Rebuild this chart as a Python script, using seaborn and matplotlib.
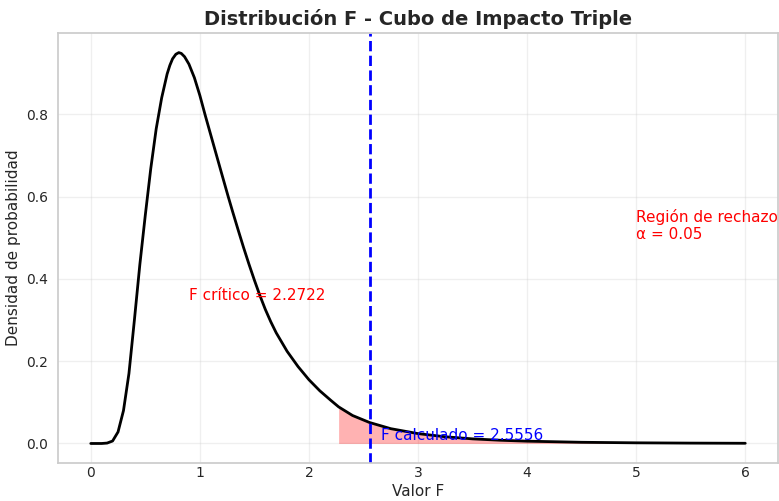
import numpy as np
import pandas as pd
import matplotlib
matplotlib.use("Agg")
import matplotlib.pyplot as plt
import seaborn as sns

# F density
f_values = [0.0, 0.10, 0.15, 0.20, 0.25, 0.30, 0.35, 0.40, 0.45, 0.50, 0.55, 0.60,
            0.65, 0.70, 0.725, 0.75, 0.78, 0.807, 0.83, 0.86, 0.90, 0.95, 1.00, 1.05,
            1.10, 1.15, 1.20, 1.26, 1.30, 1.35, 1.40, 1.45, 1.50, 1.55, 1.60, 1.65,
            1.70, 1.80, 1.90, 2.00, 2.10, 2.20, 2.2722, 2.40, 2.5556, 2.75, 3.00,
            3.25, 3.50, 3.75, 4.00, 4.50, 5.00, 5.50, 6.00]
densidad = [0.0, 0.0, 0.001, 0.006, 0.028, 0.080, 0.170, 0.300, 0.435, 0.555, 0.668, 0.765,
            0.840, 0.898, 0.919, 0.935, 0.946, 0.950, 0.948, 0.940, 0.922, 0.889, 0.846, 0.797,
            0.750, 0.703, 0.656, 0.600, 0.564, 0.520, 0.477, 0.436, 0.397, 0.360, 0.326, 0.296,
            0.269, 0.224, 0.187, 0.155, 0.128, 0.105, 0.089, 0.068, 0.051, 0.036, 0.024,
            0.0163, 0.0112, 0.0079, 0.0056, 0.0029, 0.0016, 0.0009, 0.0005]

f_critico = 2.2722
f_calculado = 2.5556
alpha = 0.05

df = pd.DataFrame({'F': f_values, 'pdf': densidad})

sns.set_theme(style='whitegrid')
plt.rcParams['font.family'] = ['DejaVu Sans']

fig, ax = plt.subplots(figsize=(7.79, 5.01), dpi=100)
fig.subplots_adjust(left=0.0745, right=0.9987, bottom=0.0758, top=0.934)

sns.lineplot(data=df, x='F', y='pdf', color='black', linewidth=2, ax=ax)

# region de rechazo
rechazo = df[df['F'] >= f_critico]
ax.fill_between(rechazo['F'], rechazo['pdf'], color='red', alpha=0.3, linewidth=0)

ax.axvline(f_calculado, color='blue', linestyle='--', linewidth=2)

ax.text(0.9, 0.36, f'F crítico = {f_critico}', color='red', fontsize=11, va='center')
ax.text(5.0, 0.53, f'Región de rechazo\nα = {alpha}', color='red', fontsize=11, va='center')
ax.text(2.66, 0.02, f'F calculado = {f_calculado}', color='blue', fontsize=11, va='center')

ax.set_title('Distribución F - Cubo de Impacto Triple', fontsize=14, fontweight='bold')
ax.set_xlabel('Valor F', fontsize=11, labelpad=3)
ax.set_ylabel('Densidad de probabilidad', fontsize=11)
ax.tick_params(axis='both', labelsize=10, length=0)
ax.tick_params(axis='x', pad=2)
ax.tick_params(axis='y', pad=7)
ax.grid(True, alpha=0.3)

plt.savefig('out.png', dpi=100)
plt.close()
